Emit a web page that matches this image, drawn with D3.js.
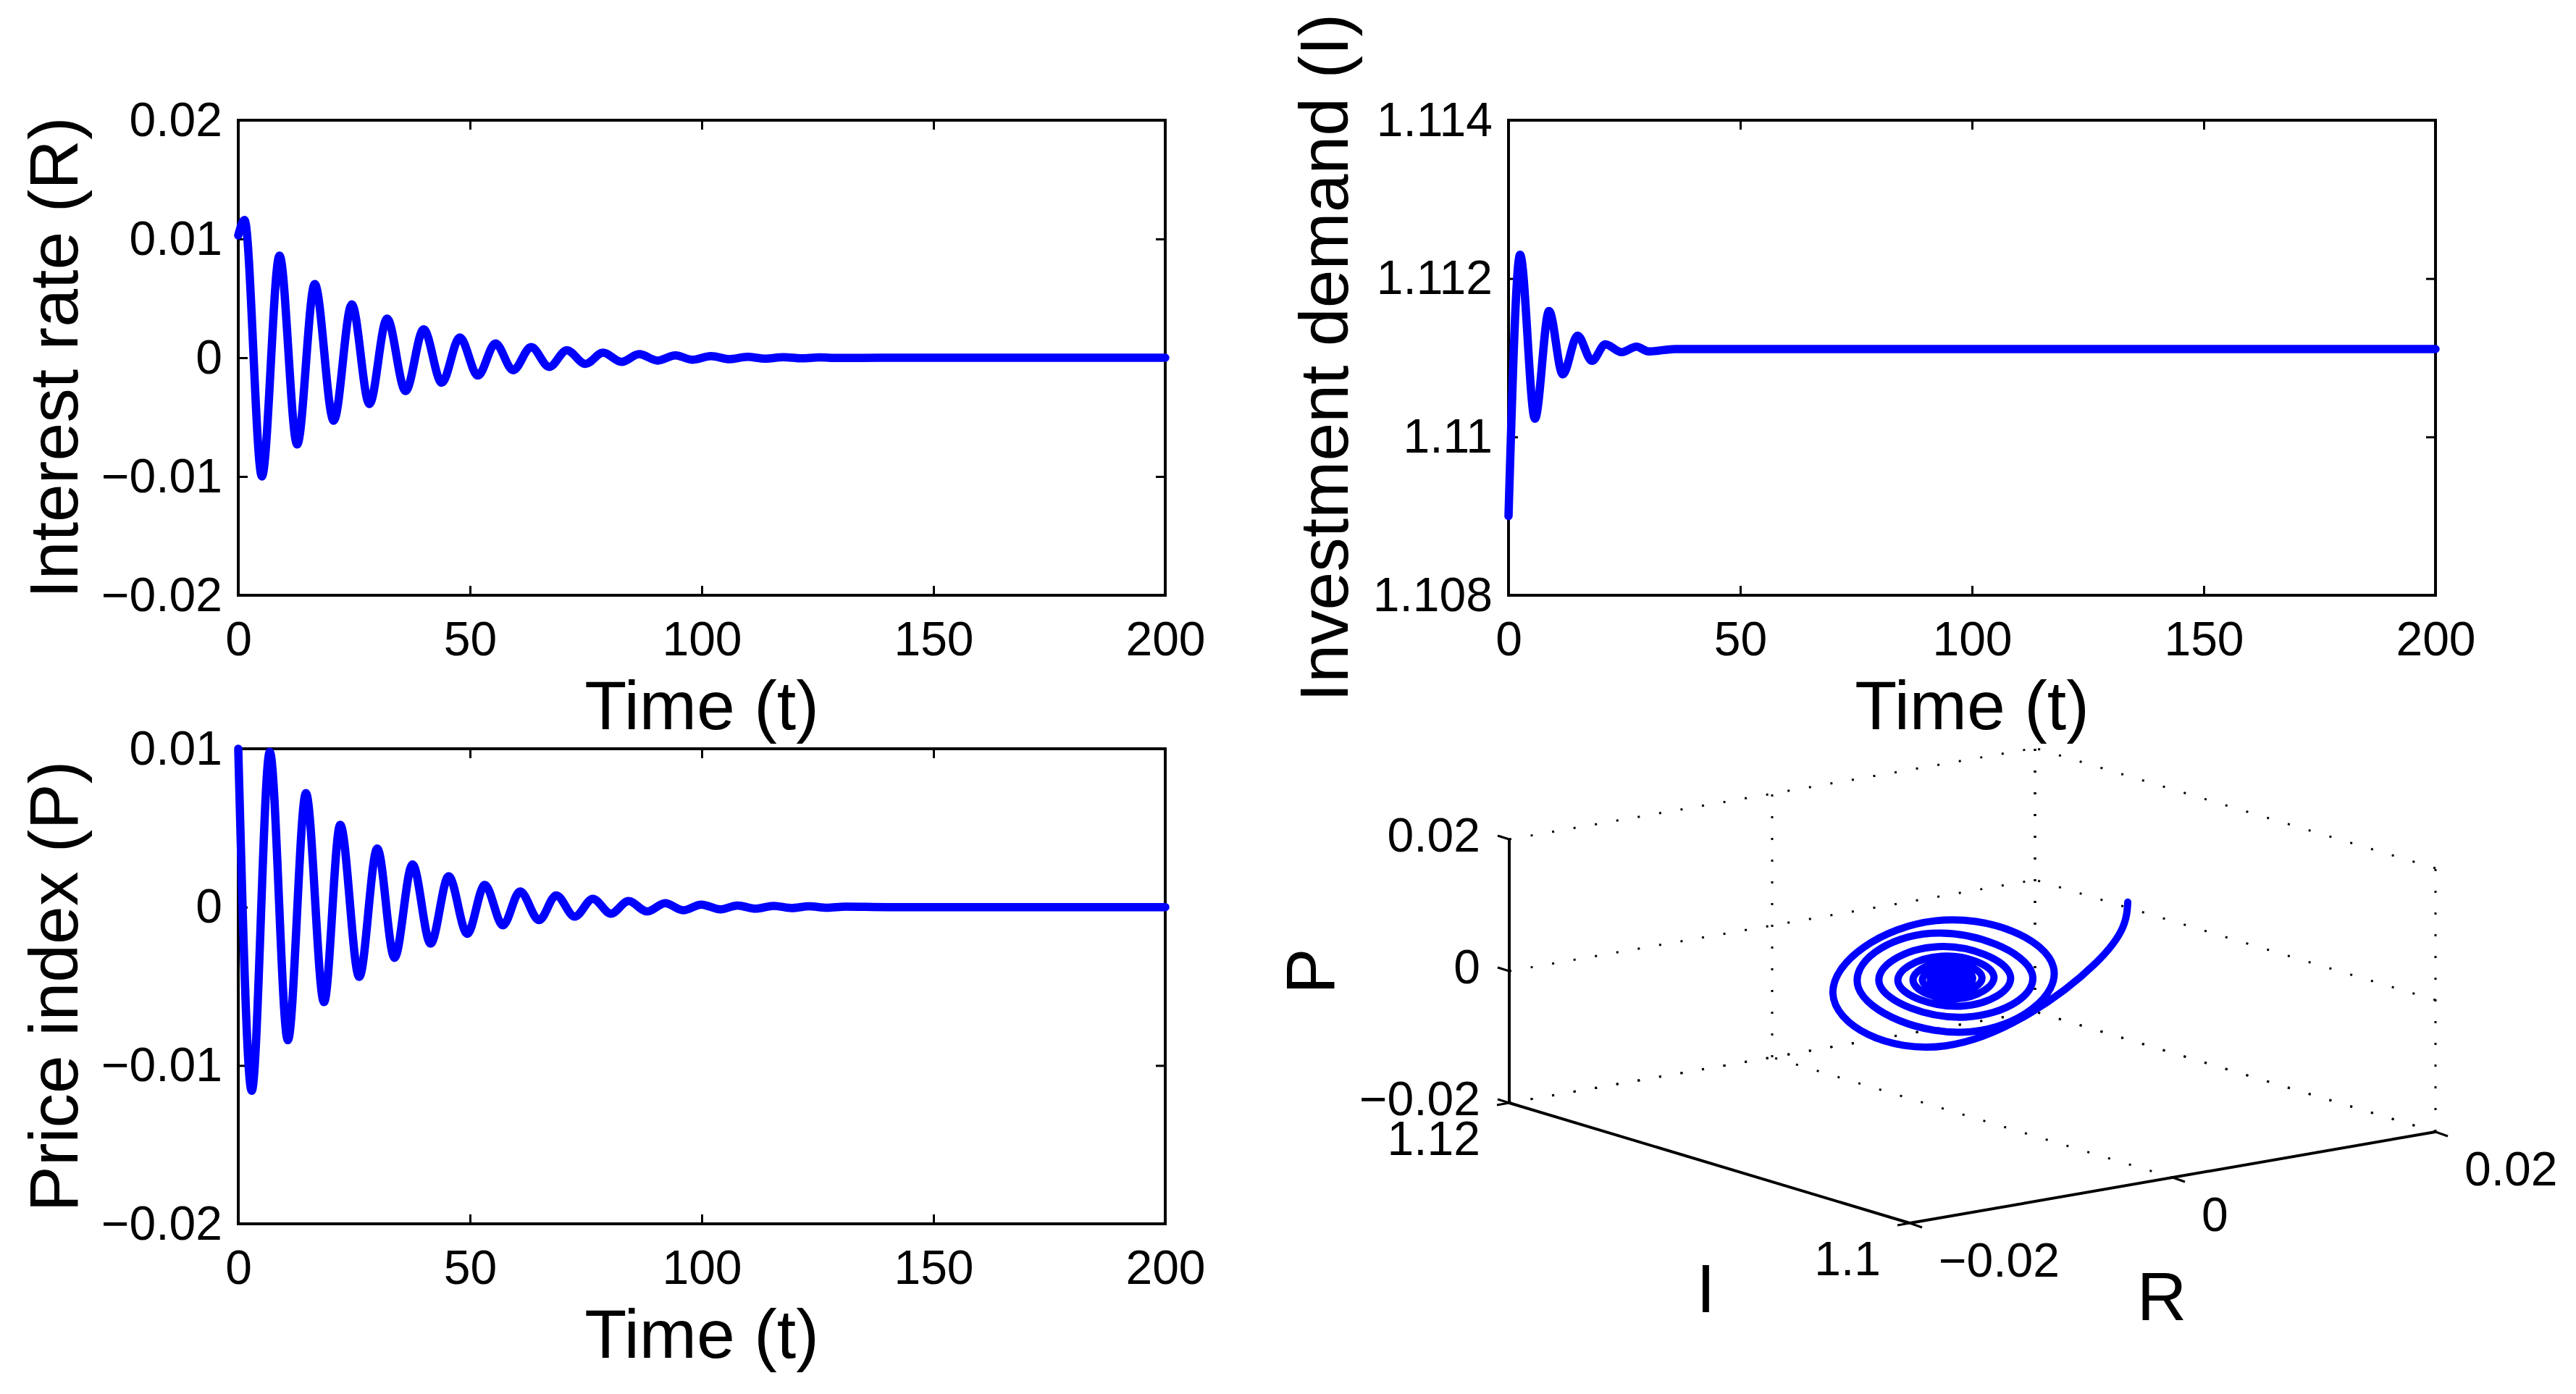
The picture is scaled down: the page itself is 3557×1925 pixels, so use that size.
<!DOCTYPE html>
<html>
<head>
<meta charset="utf-8">
<script src="https://cdnjs.cloudflare.com/ajax/libs/d3/7.8.5/d3.min.js"></script>
<style>
  body { margin: 0; background: #fff; }
  text { font-family: "Liberation Sans", Arial, Helvetica, sans-serif; fill: #000; }
</style>
</head>
<body>
<div id="chart"></div>
<script>
// tick values
const timeTicks = [0, 50, 100, 150, 200];
const rateTicks = [-0.02, -0.01, 0, 0.01, 0.02];
const investTicks = [1.108, 1.11, 1.112, 1.114];
const priceTicks = [-0.02, -0.01, 0, 0.01];

// time series: [t, value] at start, extrema and settle points
const interestRate = [
    [0, 0.0103], [1.35, 0.0116], [5.1, -0.0100], [8.9, 0.0086], [12.7, -0.0073],
    [16.5, 0.0062], [20.6, -0.0053], [24.5, 0.0045], [28.3, -0.0039], [32.1, 0.0033],
    [36.1, -0.0028], [40.0, 0.0024], [43.9, -0.0021], [47.8, 0.0017], [51.7, -0.0015],
    [55.5, 0.0012], [59.3, -0.00105], [63.2, 0.0009], [67.1, -0.00077], [70.9, 0.00063],
    [74.9, -0.00052], [78.7, 0.00042], [82.7, -0.00035], [86.5, 0.0003], [90.5, -0.00024],
    [94.3, 0.0002], [98.0, -0.00017], [102.0, 0.00014], [106, -0.00012], [109.8, 0.00008],
    [113.7, -0.00008], [117.6, 0.00005], [121.5, -0.00005], [125.4, 0.00003],
    [129.3, -0.00002], [140, 0], [200, 0]
];

const investment = [
    [0, 1.1090], [2.5, 1.1123], [5.7, 1.11023], [8.75, 1.11159], [11.7, 1.11079],
    [14.9, 1.11128], [18.0, 1.11096], [20.9, 1.11117], [24.4, 1.11107], [27.6, 1.11114],
    [30.2, 1.11108], [36, 1.11111], [200, 1.11111]
];

const priceIndex = [
    [0, 0.0100], [2.9, -0.0116], [6.8, 0.0098], [10.7, -0.0084], [14.6, 0.0072],
    [18.5, -0.0060], [22.0, 0.0052], [26.1, -0.0044], [30.0, 0.0037], [33.7, -0.0032],
    [37.6, 0.0027], [41.5, -0.0023], [45.4, 0.00195], [49.4, -0.00168], [53.2, 0.0014],
    [57.1, -0.00115], [60.8, 0.00099], [64.9, -0.00082], [68.6, 0.00074], [72.6, -0.0006],
    [76.5, 0.00052], [80.4, -0.00041], [84.2, 0.00038], [88.2, -0.00027], [92.1, 0.00025],
    [96.0, -0.0002], [99.9, 0.00016], [104, -0.00014], [107.7, 0.0001], [111.6, -0.0001],
    [115.5, 0.00008], [119.4, -0.00006], [123.1, 0.00005], [127, -0.00004], [131, 0.00003],
    [140, 0], [200, 0]
];

// phase portrait ticks and path [R, I, P]
const phaseRTicks = [-0.02, 0, 0.02];
const phaseITicks = [1.1, 1.12];
const phasePTicks = [-0.02, 0, 0.02];

const phasePath = [
    [0.0103, 1.1090, 0.0100], [0.0116, 1.1115, -0.0021], [0.0013, 1.1122, -0.0116],
    [-0.0100, 1.1104, 0.0019], [-0.0017, 1.1107, 0.0098], [0.0086, 1.1116, -0.0016],
    [0.0014, 1.1110, -0.0084], [-0.0073, 1.1109, 0.0014], [-0.0012, 1.11126, 0.0072],
    [0.0062, 1.1111, -0.0012], [0.0010, 1.11097, -0.0060], [-0.0053, 1.11116, 0.0010],
    [-0.0009, 1.11113, 0.0052], [0.0045, 1.11107, -0.0009], [0.0008, 1.1111, -0.0044],
    [-0.0039, 1.11114, 0.0007], [-0.0007, 1.11108, 0.0037], [0.0033, 1.1111, -0.0006],
    [0.0005, 1.11111, -0.0032], [-0.0028, 1.11111, 0.0005], [-0.0005, 1.11111, 0.0027],
    [0.0024, 1.11111, -0.0004], [0.0004, 1.11111, -0.0023], [-0.0021, 1.11111, 0.0004],
    [-0.0003, 1.11111, 0.0019], [0.0017, 1.11111, -0.0003], [0.0003, 1.11111, -0.0017],
    [-0.0015, 1.11111, 0.0003], [-0.0002, 1.11111, 0.0014], [0.0012, 1.11111, -0.0002],
    [0.0002, 1.11111, -0.0012], [-0.0010, 1.11111, 0.0002], [-0.0002, 1.11111, 0.0010],
    [0.0009, 1.11111, -0.0001], [0.0001, 1.11111, -0.0008], [-0.0008, 1.11111, 0.0001],
    [-0.0001, 1.11111, 0.0007], [0.0006, 1.11111, -0.0001], [0.0001, 1.11111, -0.0006],
    [-0.0005, 1.11111, 0.0001], [0, 1.11111, 0.0005], [0.0004, 1.11111, 0],
    [0, 1.11111, -0.0004], [-0.0003, 1.11111, 0], [0, 1.11111, 0.0003],
    [0.0002, 1.11111, 0], [0, 1.11111, -0.0002], [0, 1.11111, 0]
];

const W = 3557, H = 1925;
const fmt = d3.format("~g");

const svg = d3.select("#chart").append("svg")
    .attr("width", W)
    .attr("height", H)
    .style("background", "#fff");

// one 2D time panel
function timePanel(cfg) {
    const pw = 1280, ph = 656;
    const g = svg.append("g")
        .attr("transform", "translate(" + cfg.left + "," + cfg.top + ")");

    const x = d3.scaleLinear().domain([0, 200]).range([0, pw]);
    const y = d3.scaleLinear().domain(cfg.domain).range([ph, 0]);

    const axes = [
        [d3.axisBottom(x).tickValues(timeTicks).tickFormat(fmt).tickPadding(36), "translate(0," + ph + ")"],
        [d3.axisTop(x).tickValues(timeTicks).tickFormat(""), "translate(0,0)"],
        [d3.axisLeft(y).tickValues(cfg.ticks).tickFormat(fmt).tickPadding(22), "translate(0,0)"],
        [d3.axisRight(y).tickValues(cfg.ticks).tickFormat(""), "translate(" + pw + ",0)"]
    ];
    axes.forEach(([ax, tr]) => {
        const a = g.append("g")
            .attr("transform", tr)
            .call(ax.tickSizeInner(-13).tickSizeOuter(0));
        a.select(".domain").remove();
        a.selectAll("line").attr("stroke", "#000").attr("stroke-width", 3);
        a.selectAll("text")
            .attr("font-size", 66)
            .attr("font-family", "Liberation Sans, Arial, sans-serif")
            .attr("fill", "#000");
    });

    g.append("rect")
        .attr("width", pw)
        .attr("height", ph)
        .attr("fill", "none")
        .attr("stroke", "#000")
        .attr("stroke-width", 4);

    const line = d3.line()
        .x(d => x(d[0]))
        .y(d => y(d[1]))
        .curve(d3.curveMonotoneX);

    g.append("path")
        .datum(cfg.data)
        .attr("d", line)
        .attr("fill", "none")
        .attr("stroke", "#0000ff")
        .attr("stroke-width", 11.5)
        .attr("stroke-linejoin", "round")
        .attr("stroke-linecap", "round");

    // axis titles
    g.append("text")
        .attr("x", pw / 2)
        .attr("y", ph + 185)
        .attr("text-anchor", "middle")
        .attr("font-size", 95)
        .text("Time (t)");

    g.append("text")
        .attr("transform", "translate(-222," + (ph / 2) + ") rotate(-90)")
        .attr("text-anchor", "middle")
        .attr("font-size", 95)
        .text(cfg.label);
}

timePanel({ left: 329, top: 166, domain: [-0.02, 0.02], ticks: rateTicks, data: interestRate, label: "Interest rate (R)" });
timePanel({ left: 2083, top: 166, domain: [1.108, 1.114], ticks: investTicks, data: investment, label: "Investment demand (I)" });
timePanel({ left: 329, top: 1034, domain: [-0.02, 0.01], ticks: priceTicks, data: priceIndex, label: "Price index (P)" });

// 3D phase portrait, fixed oblique view
const ox = 2637, oy = 1689;
const pxR = d3.scaleLinear().domain([-0.02, 0.02]).range([0, 726]);
const pyR = d3.scaleLinear().domain([-0.02, 0.02]).range([0, -126]);
const pxI = d3.scaleLinear().domain([1.1, 1.12]).range([0, -553]);
const pyI = d3.scaleLinear().domain([1.1, 1.12]).range([0, -166]);
const pyP = d3.scaleLinear().domain([-0.02, 0.02]).range([0, -364]);
const proj = d => [ox + pxR(d[0]) + pxI(d[1]), oy + pyR(d[0]) + pyI(d[1]) + pyP(d[2])];

const rMin = -0.02, rMax = 0.02, iMin = 1.1, iMax = 1.12, pMin = -0.02, pMax = 0.02;
const g3 = svg.append("g");

// dotted grid on the three back planes
const grid = [];
phaseRTicks.forEach(r => {
    grid.push([[r, iMax, pMin], [r, iMax, pMax]]);
    grid.push([[r, iMin, pMin], [r, iMax, pMin]]);
});
phasePTicks.forEach(p => {
    grid.push([[rMin, iMax, p], [rMax, iMax, p]]);
    grid.push([[rMax, iMin, p], [rMax, iMax, p]]);
});
phaseITicks.forEach(i => {
    grid.push([[rMax, i, pMin], [rMax, i, pMax]]);
    grid.push([[rMin, i, pMin], [rMax, i, pMin]]);
});

g3.selectAll(".grid3")
    .data(grid)
    .enter().append("line")
    .attr("class", "grid3")
    .attr("x1", d => proj(d[0])[0])
    .attr("y1", d => proj(d[0])[1])
    .attr("x2", d => proj(d[1])[0])
    .attr("y2", d => proj(d[1])[1])
    .attr("stroke", "#000")
    .attr("stroke-width", 3)
    .attr("stroke-dasharray", "3 27");

// solid axes
const axes3 = [
    [[rMin, iMax, pMin], [rMin, iMax, pMax]],
    [[rMin, iMax, pMin], [rMin, iMin, pMin]],
    [[rMin, iMin, pMin], [rMax, iMin, pMin]]
];
g3.selectAll(".axis3")
    .data(axes3)
    .enter().append("line")
    .attr("x1", d => proj(d[0])[0])
    .attr("y1", d => proj(d[0])[1])
    .attr("x2", d => proj(d[1])[0])
    .attr("y2", d => proj(d[1])[1])
    .attr("stroke", "#000")
    .attr("stroke-width", 4);

// ticks and labels
phaseRTicks.forEach(r => {
    const p = proj([r, iMin, pMin]);
    g3.append("line").attr("x1", p[0]).attr("y1", p[1]).attr("x2", p[0] + 17).attr("y2", p[1] + 6)
        .attr("stroke", "#000").attr("stroke-width", 3);
    g3.append("text").attr("x", p[0] + 40).attr("y", p[1] + 74)
        .attr("font-size", 66).text(fmt(r));
});
phaseITicks.forEach(i => {
    const p = proj([rMin, i, pMin]);
    g3.append("line").attr("x1", p[0]).attr("y1", p[1]).attr("x2", p[0] - 17).attr("y2", p[1] + 3)
        .attr("stroke", "#000").attr("stroke-width", 3);
    g3.append("text").attr("x", p[0] - 40).attr("y", p[1] + 72)
        .attr("text-anchor", "end").attr("font-size", 66).text(fmt(i));
});
phasePTicks.forEach(v => {
    const p = proj([rMin, iMax, v]);
    g3.append("line").attr("x1", p[0]).attr("y1", p[1]).attr("x2", p[0] - 16).attr("y2", p[1] - 5)
        .attr("stroke", "#000").attr("stroke-width", 3);
    g3.append("text").attr("x", p[0] - 40).attr("y", p[1] - 6)
        .attr("dy", "0.35em").attr("text-anchor", "end").attr("font-size", 66).text(fmt(v));
});

// axis titles
const pMid = proj([rMin, iMax, 0]);
g3.append("text")
    .attr("transform", "translate(" + (pMid[0] - 242) + "," + pMid[1] + ") rotate(-90)")
    .attr("text-anchor", "middle").attr("font-size", 95).text("P");
const iMid = proj([rMin, (iMin + iMax) / 2, pMin]);
g3.append("text").attr("x", iMid[0] - 5).attr("y", iMid[1] + 206)
    .attr("text-anchor", "middle").attr("font-size", 95).text("I");
const rMid = proj([0, iMin, pMin]);
g3.append("text").attr("x", rMid[0] - 15).attr("y", rMid[1] + 197)
    .attr("text-anchor", "middle").attr("font-size", 95).text("R");

// the trajectory
g3.append("path")
    .datum(phasePath.map(proj))
    .attr("d", d3.line().curve(d3.curveNatural))
    .attr("fill", "none")
    .attr("stroke", "#0000ff")
    .attr("stroke-width", 10)
    .attr("stroke-linejoin", "round")
    .attr("stroke-linecap", "round");
</script>
</body>
</html>
